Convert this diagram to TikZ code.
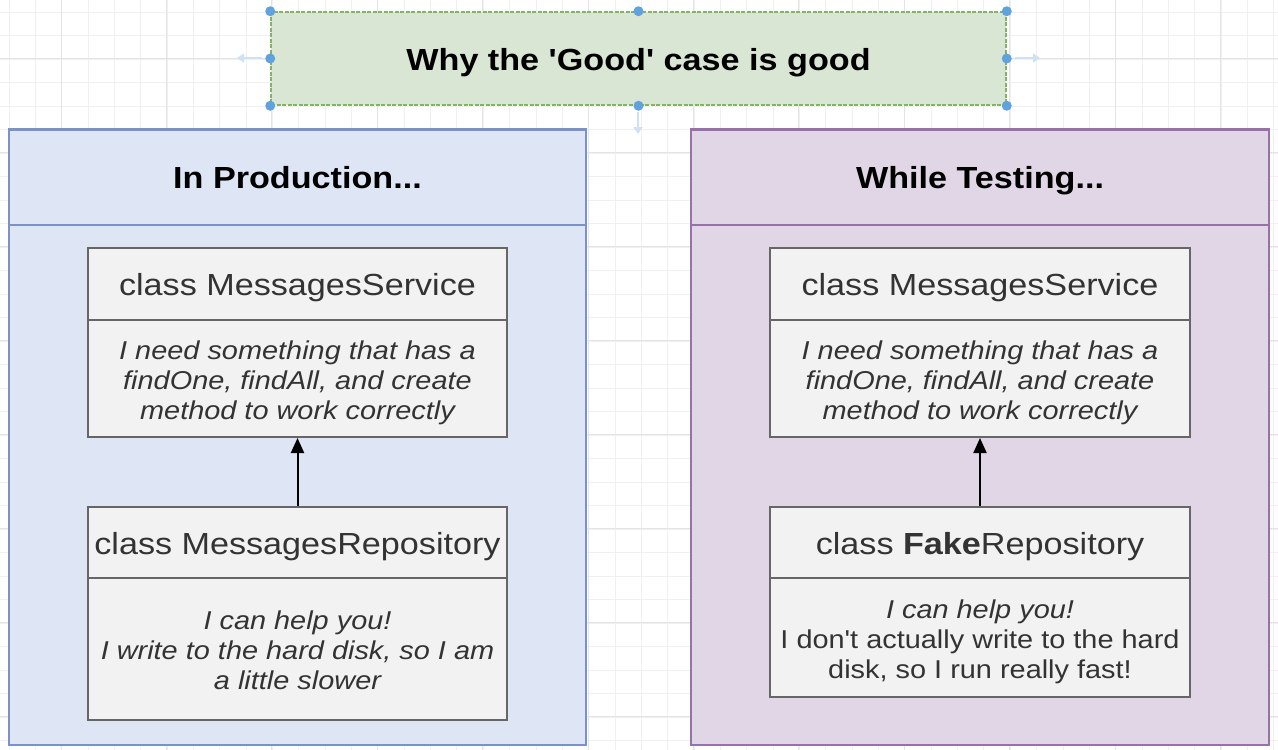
\documentclass[tikz,border=0pt]{standalone}
\usepackage{graphicx}
\usepackage{fontspec}
\setmainfont{Liberation Sans}[Ligatures=TeXOff]
\usetikzlibrary{arrows.meta}
\definecolor{gridminor}{HTML}{F0F0F0}
\definecolor{gridmajor}{HTML}{E4E4E4}
\definecolor{titlefill}{HTML}{DAE6D4}
\definecolor{titledraw}{HTML}{82B366}
\definecolor{bluefill}{HTML}{DEE5F5}
\definecolor{bluedraw}{HTML}{7A93C4}
\definecolor{purplefill}{HTML}{E1D6E6}
\definecolor{purpledraw}{HTML}{9673A6}
\definecolor{boxfill}{HTML}{F2F2F2}
\definecolor{boxdraw}{HTML}{666666}
\definecolor{boxtext}{HTML}{333333}
\definecolor{handle}{HTML}{5FA2DD}
\definecolor{hint}{HTML}{CFE2F3}
\newcommand{\sx}[1]{\scalebox{1.12}[1]{#1}}
\newcommand{\sxm}[1]{\raisebox{-4.5pt}[\height][\depth]{\scalebox{1.12}[1]{#1}}}
\newcommand{\bigfont}{\fontsize{30.5}{36}\selectfont}
\newcommand{\smallfont}{\fontsize{25.8}{30}\selectfont}
\begin{document}
\begin{tikzpicture}[x=1pt,y=-1pt,
  oneline/.style={text height=28pt, text depth=6pt},
  titlebox/.style={draw=titledraw, line width=1.5pt, dash pattern=on 4pt off 1.5pt, fill=titlefill, minimum width=735pt, minimum height=93pt, inner sep=0pt},
  panel/.style={line width=2pt, minimum height=616pt, inner sep=0pt},
  panelhead/.style={line width=2pt, minimum height=95pt, inner sep=0pt, font=\bigfont\bfseries, text=black, oneline},
  namebox/.style={draw=boxdraw, fill=boxfill, line width=2pt, minimum height=72pt, inner sep=0pt, font=\bigfont, text=boxtext, oneline},
  bodybox/.style={draw=boxdraw, fill=boxfill, line width=2pt, inner sep=0pt, font=\smallfont, text=boxtext},
  arr/.style={line width=2pt, -{Triangle[length=15pt,width=13pt]}},
  dot/.style={circle, fill=handle, minimum size=10pt, inner sep=0pt}
]
\useasboundingbox (0,0) rectangle (1278,750);
\fill[white] (0,0) rectangle (1278,750);
% grid
\foreach \i in {0,...,48} {\draw[gridminor, line width=1pt] ({9+26.35*\i},0) -- ({9+26.35*\i},750);}
\foreach \i in {0,...,32} {\draw[gridminor, line width=1pt] (0,{12+23.5*\i}) -- (1278,{12+23.5*\i});}
\foreach \i in {0,...,12} {\draw[gridmajor, line width=1pt] ({61+105.4*\i},0) -- ({61+105.4*\i},750);}
\foreach \i in {0,...,8} {\draw[gridmajor, line width=1pt] (0,{58+94*\i}) -- (1278,{58+94*\i});}

% title
\node[titlebox] (title) at (638.5,58.5) {};
\node[font=\bigfont\bfseries, text=black, inner sep=0pt, oneline] (titletext) at (638.5,59) {\sx{Why the 'Good' case is good}};
\foreach \a in {north west,north,north east,west,east,south west,south,south east} {\node[dot] at (title.\a) {};}
\coordinate (hl1) at (262,58); \coordinate (hl2) at (237,58);
\coordinate (hr1) at (1015,58); \coordinate (hr2) at (1040,58);
\coordinate (hd1) at (638,112); \coordinate (hd2) at (638,134);
\draw[hint, line width=2.5pt, -{Triangle[length=7pt,width=9pt]}] (hl1) -- (hl2);
\draw[hint, line width=2.5pt, -{Triangle[length=7pt,width=9pt]}] (hr1) -- (hr2);
\draw[hint, line width=2.5pt, -{Triangle[length=7pt,width=9pt]}] (hd1) -- (hd2);

% left panel
\node[panel, draw=bluedraw, fill=bluefill, minimum width=577pt] (lp) at (297.5,437) {};
\node[panelhead, draw=bluedraw, minimum width=577pt] (lh) at (297.5,177) {\sx{In Production...}};
\node[namebox, minimum width=419pt] (lsn) at (297.5,284) {\sx{class MessagesService}};
\node[bodybox, minimum width=419pt, minimum height=117pt] (lsb) at (297.5,378.5)
  {\sxm{\itshape\begin{tabular}{@{}c@{}}I need something that has a\\ findOne, findAll, and create\\ method to work correctly\end{tabular}}};
\node[namebox, minimum width=419pt] (lrn) at (297.5,543) {\sx{class MessagesRepository}};
\node[bodybox, minimum width=419pt, minimum height=142pt] (lrb) at (297.5,649)
  {\sxm{\itshape\begin{tabular}{@{}c@{}}I can help you!\\ I write to the hard disk, so I am\\ a little slower\end{tabular}}};
\draw[arr] (lrn.north) -- (lsb.south);

% right panel
\node[panel, draw=purpledraw, fill=purplefill, minimum width=578pt] (rp) at (980,437) {};
\node[panelhead, draw=purpledraw, minimum width=578pt] (rh) at (980,177) {\sx{While Testing...}};
\node[namebox, minimum width=420pt] (rsn) at (980,284) {\sx{class MessagesService}};
\node[bodybox, minimum width=420pt, minimum height=117pt] (rsb) at (980,378.5)
  {\sxm{\itshape\begin{tabular}{@{}c@{}}I need something that has a\\ findOne, findAll, and create\\ method to work correctly\end{tabular}}};
\node[namebox, minimum width=420pt] (rrn) at (980,543) {\sx{class \textbf{Fake}Repository}};
\node[bodybox, minimum width=420pt, minimum height=119pt] (rrb) at (980,637.5)
  {\sxm{\begin{tabular}{@{}c@{}}\itshape I can help you!\\ I don't actually write to the hard\\ disk, so I run really fast!\end{tabular}}};
\draw[arr] (rrn.north) -- (rsb.south);
\end{tikzpicture}
\end{document}
